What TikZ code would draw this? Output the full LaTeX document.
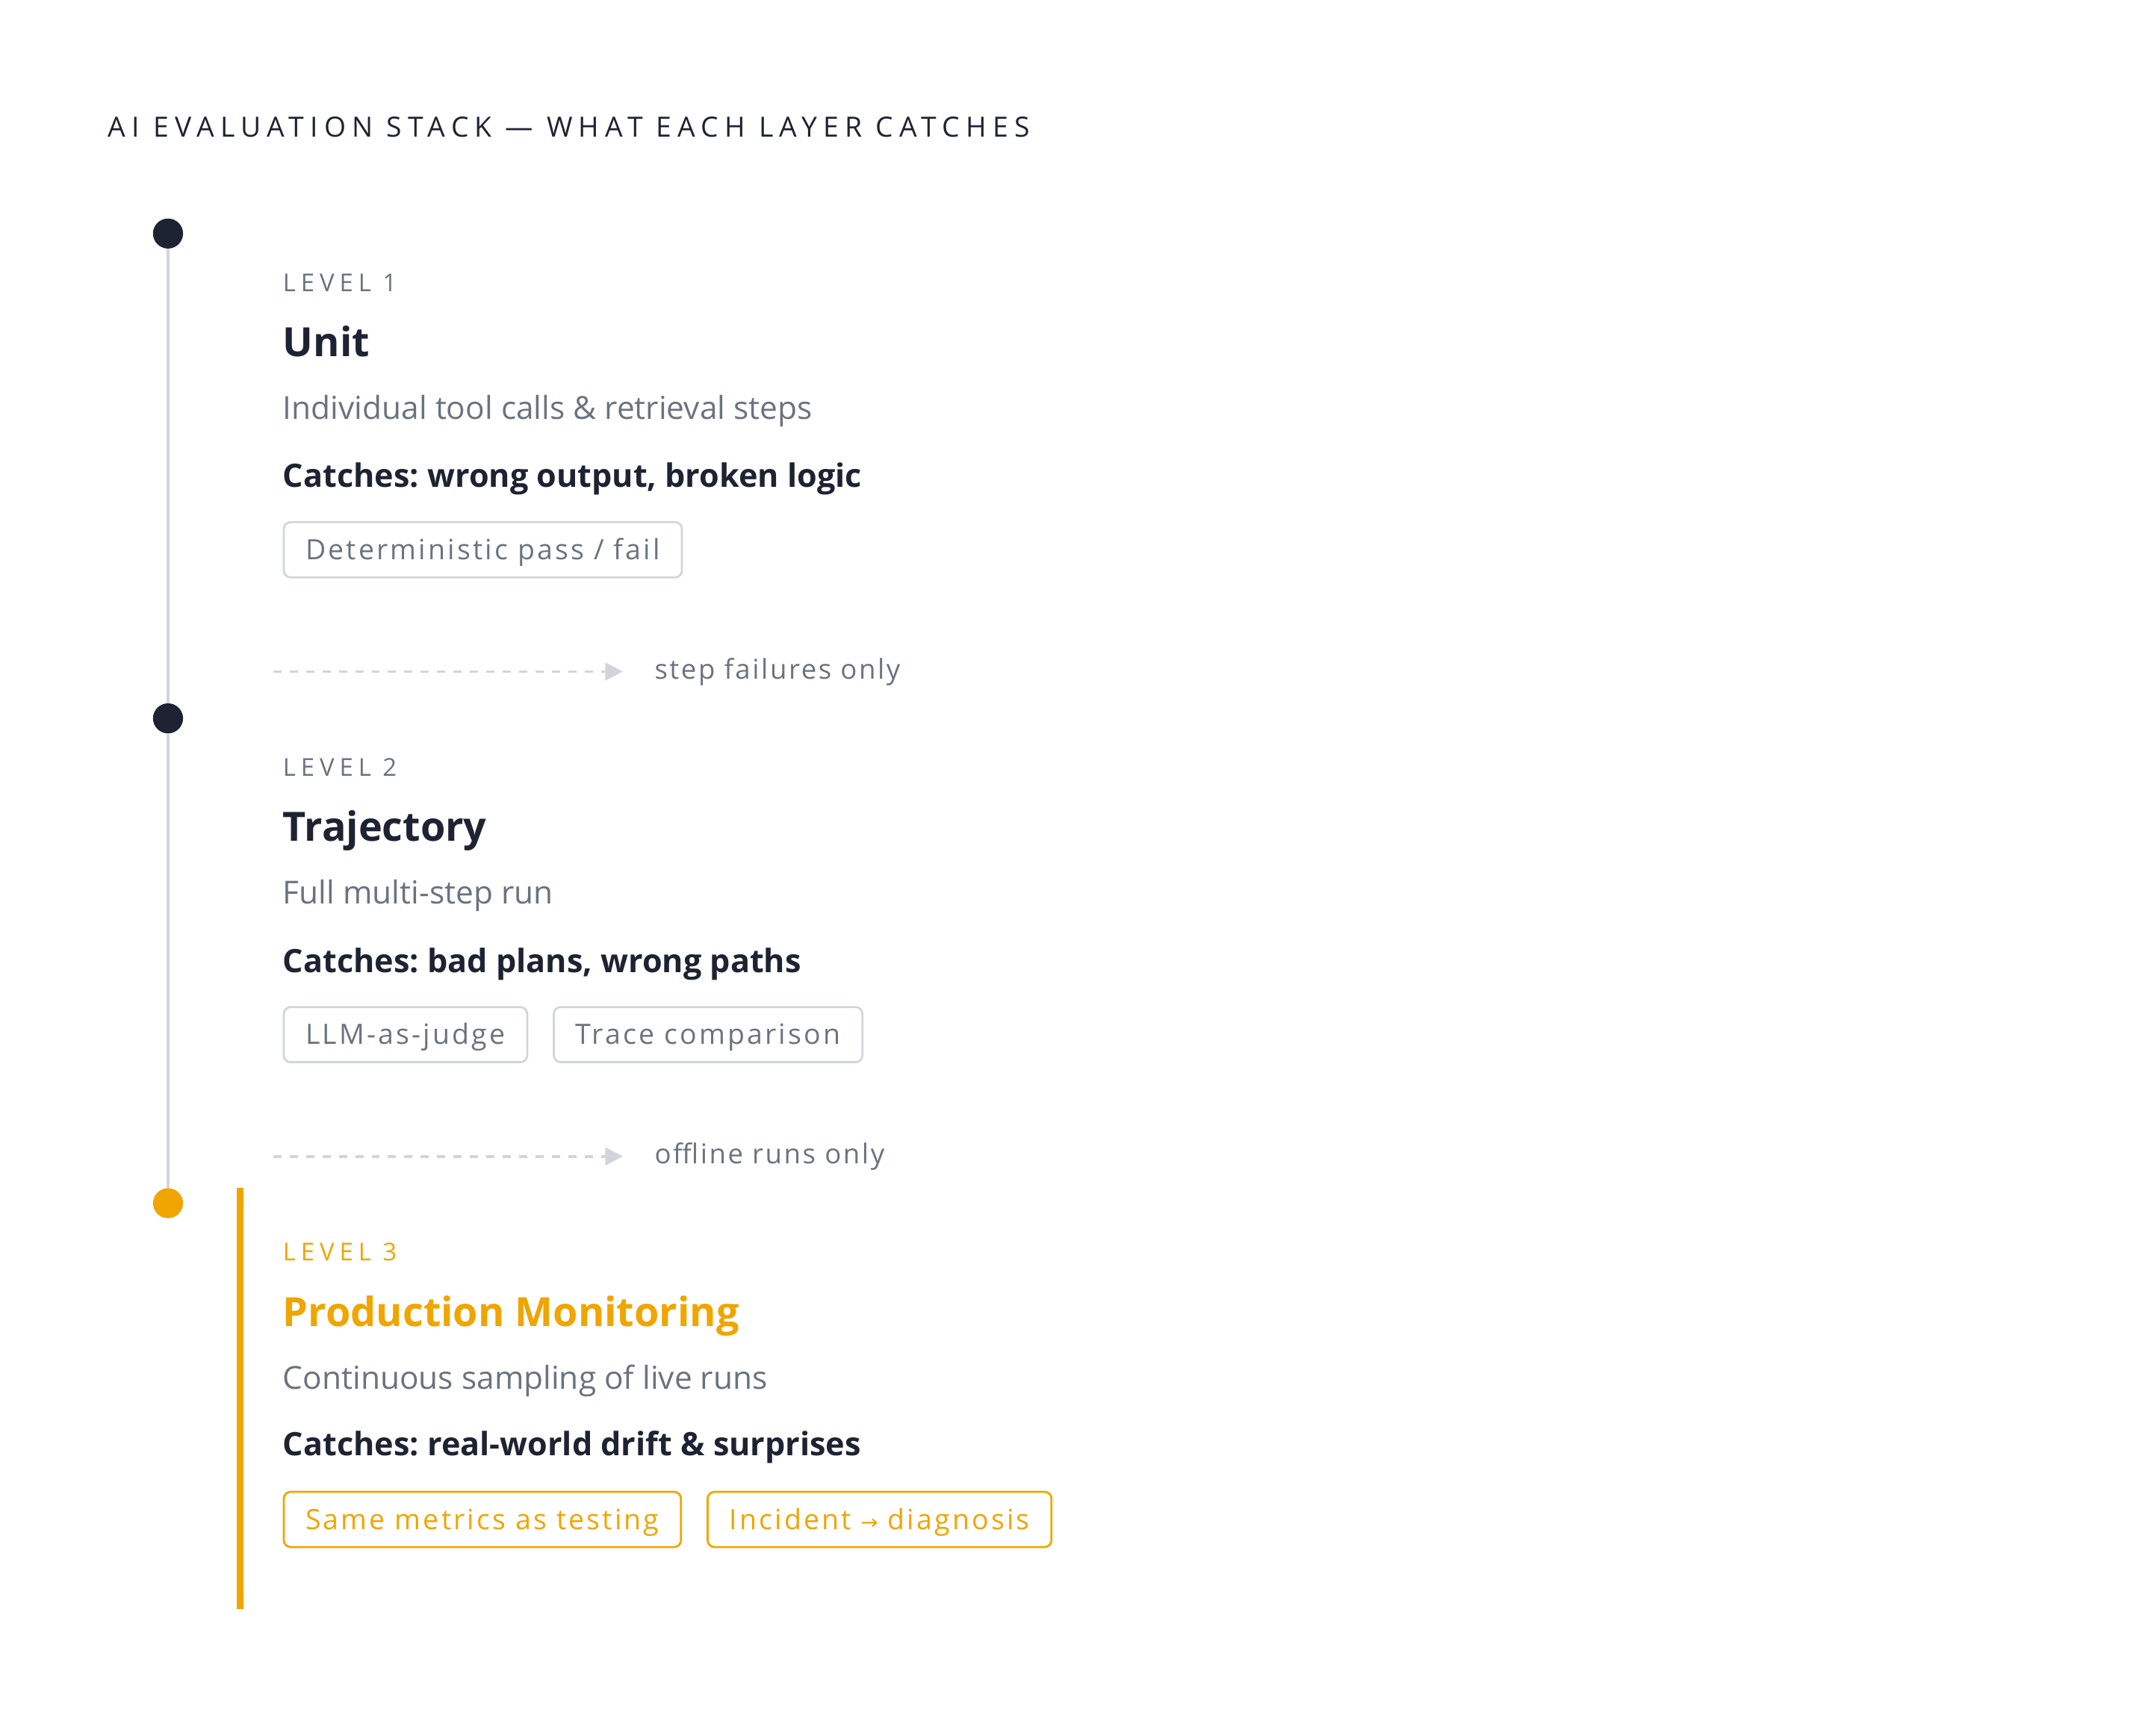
\documentclass[tikz,border=0pt]{standalone}
\usepackage{fontspec}
\setmainfont{Open Sans}
\newfontfamily\widespaced[LetterSpace=21]{Open Sans}
\newfontfamily\titlespaced[LetterSpace=22.2]{Open Sans}
\newfontfamily\tagspaced[LetterSpace=8.4]{Open Sans}
\newfontfamily\slightspaced[LetterSpace=7]{Open Sans}
\newfontfamily\arrowfont{DejaVu Sans}
\usepackage{tikz}
\usetikzlibrary{arrows.meta, positioning}
\definecolor{ink}{HTML}{1E2333}
\definecolor{muted}{HTML}{6B7280}
\definecolor{rule}{HTML}{D1D5DB}
\definecolor{amber}{HTML}{F0A500}
\frenchspacing

\begin{document}
\begin{tikzpicture}[x=1pt,y=-1pt,every node/.style = {inner sep=0pt, anchor=base west}]

\tikzstyle{dot}=[circle, fill=ink, minimum size=22pt, anchor=center]
\tikzstyle{level}=[text=muted, font=\widespaced\fontsize{18}{22}\selectfont]
\tikzstyle{heading}=[text=ink, font=\bfseries\fontsize{29.5}{34}\selectfont]
\tikzstyle{desc}=[text=muted, font=\fontsize{23.2}{27}\selectfont]
\tikzstyle{catch}=[text=ink, font=\bfseries\fontsize{23.6}{28}\selectfont]
\tikzstyle{tag}=[draw=rule, line width=1.5pt, rounded corners=5pt, anchor=north west,
                 inner xsep=16pt, inner ysep=0pt, minimum height=40.4pt,
                 text height=14.6pt, text depth=0pt, text=muted,
                 font=\tagspaced\fontsize{20.5}{24}\selectfont]
\tikzstyle{skiplabel}=[text=muted, font=\slightspaced\fontsize{20}{24}\selectfont]
\tikzstyle{skip}=[rule, line width=2pt, dash pattern=on 6pt off 6pt,
                  -{Triangle[length=13pt,width=13pt]}, shorten >=23pt]

\useasboundingbox (0,0) rectangle (1568,1271);

\node[text=ink, font=\titlespaced\fontsize{20.4}{24}\selectfont] (title) at (79,100.3)
	{AI EVALUATION STACK — WHAT EACH LAYER CATCHES};

\node[dot] (dot1) at (123,171) {};
\node[dot] (dot2) at (123,526) {};
\node[dot, fill=amber] (dot3) at (123,881) {};
\draw[rule, line width=2.5pt] (dot1.south) -- (dot2.north);
\draw[rule, line width=2.5pt] (dot2.south) -- (dot3.north);

\draw[amber, line width=5pt] (176,870) -- (176,1178);

\node[level] (lvl1) at (207,213.4) {LEVEL 1};
\node[heading] (head1) at (207,261) {Unit};
\node[desc] (desc1) at (207,307) {Individual tool calls \& retrieval steps};
\node[catch] (catch1) at (207,357) {Catches: wrong output, broken logic};
\node[tag] (tag11) at (207,381.6) {Deterministic pass / fail};

\coordinate (arr1) at (200,491.7);
\node[skiplabel] (skip1) at (479,497.2) {step failures only};
\draw[skip] (arr1) -- (arr1 -| skip1.west);

\node[level] (lvl2) at (207,568.4) {LEVEL 2};
\node[heading] (head2) at (207,616) {Trajectory};
\node[desc] (desc2) at (207,662) {Full multi-step run};
\node[catch] (catch2) at (207,712) {Catches: bad plans, wrong paths};
\node[tag] (tag21) at (207,736.6) {LLM-as-judge};
\node[tag, right=18pt of tag21] (tag22) {Trace comparison};

\coordinate (arr2) at (200,846.7);
\node[skiplabel] (skip2) at (479,852.2) {offline runs only};
\draw[skip] (arr2) -- (arr2 -| skip2.west);

\node[level, text=amber] (lvl3) at (207,923.4) {LEVEL 3};
\node[heading, text=amber] (head3) at (207,971) {Production Monitoring};
\node[desc] (desc3) at (207,1017) {Continuous sampling of live runs};
\node[catch] (catch3) at (207,1066) {Catches: real-world drift \& surprises};
\node[tag, draw=amber, text=amber] (tag31) at (207,1091.6) {Same metrics as testing};
\node[tag, draw=amber, text=amber, right=18pt of tag31] (tag32)
	{Incident {\arrowfont\fontsize{15}{16}\selectfont →} diagnosis};
\end{tikzpicture}
\end{document}
